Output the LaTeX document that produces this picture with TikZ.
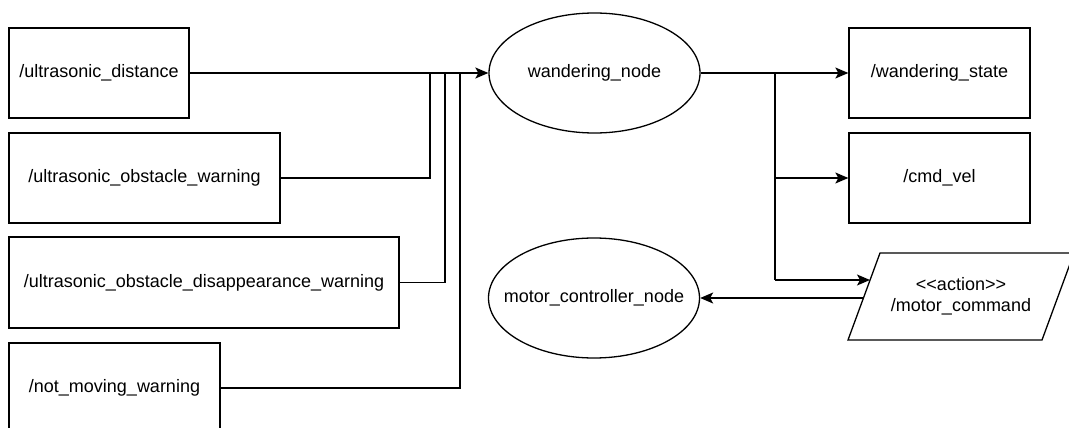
\documentclass[tikz,border=0pt]{standalone}
\usepackage{fontspec}
\setmainfont{Liberation Sans}
\usetikzlibrary{arrows.meta,shapes.geometric}
\begin{document}
\begin{tikzpicture}[x=1pt,y=-1pt,line width=1.3pt,
  lbl/.style={font=\fontsize{18}{21}\selectfont},
  box/.style={draw,rectangle,inner sep=0pt,lbl},
  ell/.style={draw,ellipse,inner sep=0pt,lbl,minimum width=211pt,minimum height=120pt},
  conn/.style={-{Stealth[length=13pt,width=11pt,inset=3pt]}}]
\useasboundingbox (0,0) rectangle (1069,428);
\clip (0,0) rectangle (1069,428);
% left topic boxes
\node[box,minimum width=180pt,minimum height=90pt] (b1) at (99,73) {/ultrasonic\_distance};
\node[box,minimum width=271pt,minimum height=90pt] (b2) at (144.5,178) {/ultrasonic\_obstacle\_warning};
\node[box,minimum width=390pt,minimum height=91pt] (b3) at (204,282.5) {/ultrasonic\_obstacle\_disappearance\_warning};
\node[box,minimum width=211pt,minimum height=90pt] (b4) at (114.5,388) {/not\_moving\_warning};
% ellipses
\node[ell] (wn) at (594.5,73) {\makebox[0pt]{wandering\_node}};
\node[ell] (mc) at (594,298) {\makebox[0pt]{motor\_controller\_node}};
% right topic boxes
\node[box,minimum width=181pt,minimum height=90pt] (ws) at (939.5,73) {/wandering\_state};
\node[box,minimum width=181pt,minimum height=90pt] (cv) at (939.5,178) {/cmd\_vel};
% action parallelogram
\draw (880,253) -- (1074,253) -- (1042,340) -- (848,340) -- cycle;
\node[lbl,align=center] (mcmd) at (961,296) {\symbol{60}\symbol{60}action\symbol{62}\symbol{62}\\/motor\_command};
% connectors left
\draw[conn] (b1.east) -- (wn.west);
\coordinate (j2) at (430,73);
\coordinate (j3) at (445,73);
\coordinate (j4) at (460,73);
\draw (b2.east) -| (j2);
\draw (b3.east) -| (j3);
\draw (b4.east) -| (j4);
% connectors right
\coordinate (t1) at (775,73);
\coordinate (t2) at (775,280);
\coordinate (pin) at (870,280);
\coordinate (pout) at (863.4,298);
\draw[conn] (wn.east) -- (ws.west);
\draw (t1) -- (t2);
\draw[conn] (t1|-cv.west) -- (cv.west);
\draw[conn] (t2) -- (pin);
\draw[conn] (pout) -- (mc.east);
\end{tikzpicture}
\end{document}
